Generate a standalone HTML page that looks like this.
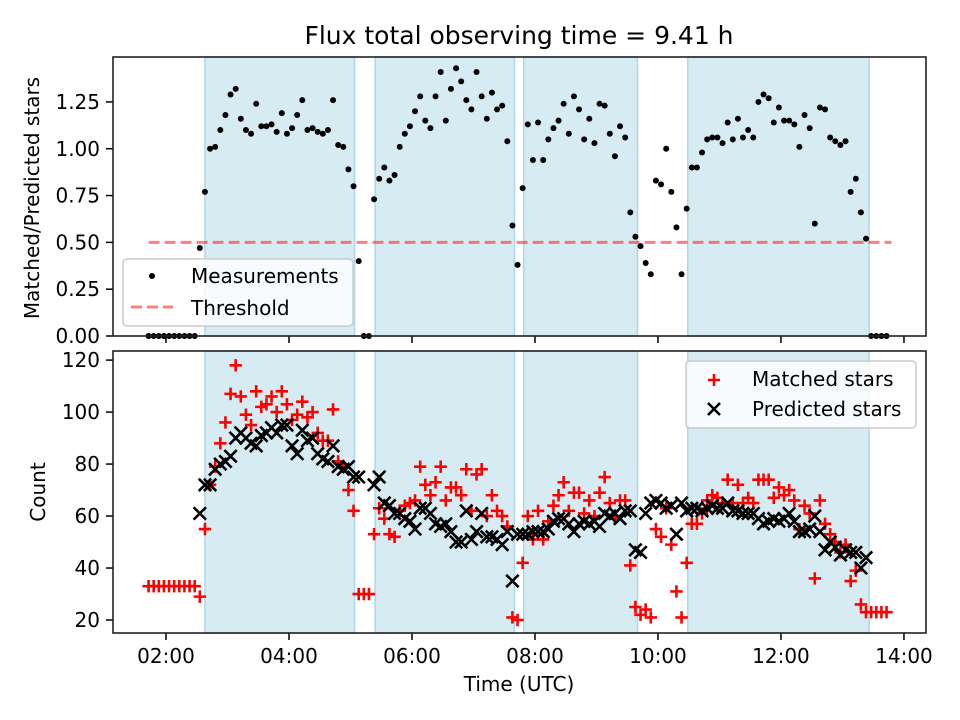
<!DOCTYPE html>
<html><head><meta charset="utf-8">
<style>
html,body{margin:0;padding:0;background:#fff;}
svg{display:block;font-family:"DejaVu Sans","Liberation Sans",sans-serif;}
</style></head>
<body>
<svg id="fig" width="960" height="720" viewBox="0 0 960 720" xmlns="http://www.w3.org/2000/svg">
<rect width="960" height="720" fill="#fff"/>
<text x="519" y="44" font-size="25" text-anchor="middle" fill="#000">Flux total observing time = 9.41 h</text>
<g id="topPanel"></g>
<g id="botPanel"></g>
<text transform="translate(39,198) rotate(-90)" font-size="20" text-anchor="middle" fill="#000">Matched/Predicted stars</text>
<text transform="translate(45,492) rotate(-90)" font-size="20" text-anchor="middle" fill="#000">Count</text>
<text x="519" y="691" font-size="20" text-anchor="middle" fill="#000">Time (UTC)</text>
</svg>
<script>
const times=[103,108,113,118,123,128,133,138,143,148,153,158,163,168,173,178,183,188,193,198,203,208,213,218,223,228,233,238,243,248,253,258,263,268,273,278,283,288,293,298,303,308,313,318,323,328,333,338,343,348,353,358,363,368,373,378,383,388,393,398,403,408,413,418,423,428,433,438,443,448,453,458,463,468,473,478,483,488,493,498,503,508,513,518,523,528,533,538,543,548,553,558,563,568,573,578,583,588,593,598,603,608,613,618,623,628,633,638,643,648,653,658,663,668,673,678,683,688,693,698,703,708,713,718,723,728,733,738,743,748,753,758,763,768,773,778,783,788,793,798,803,808,813,818,823];
const ratio=[0,0,0,0,0,0,0,0,0,0,
.47,.77,1.00,1.01,1.10,1.18,1.29,1.32,1.16,1.10,1.08,1.24,1.12,1.12,1.13,1.09,1.19,1.08,1.11,1.18,1.26,1.10,1.11,1.09,1.08,1.10,1.26,1.02,1.01,.89,.80,.40,0,0,
.73,.84,.90,.83,.86,1.01,1.08,1.12,1.20,1.28,1.15,1.11,1.28,1.41,1.15,1.32,1.43,1.36,1.26,1.21,1.41,1.28,1.16,1.30,1.21,1.23,1.04,.59,.38,
.79,1.13,.94,1.14,.94,1.05,1.11,1.15,1.24,1.08,1.28,1.21,1.05,1.16,1.03,1.24,1.23,1.08,.96,1.12,1.06,.66,.53,.48,.39,.33,.83,.81,1.00,.77,.58,.33,.68,.90,.90,.98,1.05,1.06,1.06,1.03,1.14,1.05,1.16,1.06,1.10,1.06,1.25,1.29,1.27,1.14,1.22,1.15,1.15,1.13,1.01,1.18,1.11,.60,1.22,1.21,1.06,1.04,1.02,1.04,.77,.84,.66,.52,
0,0,0,0];
const predicted=[null,null,null,null,null,null,null,null,null,null,
61,72,72,78,80,81,83,90,92,90,88,87,91,92,94,92,95,95,87,84,93,89,90,84,82,81,87,79,78,79,75,75,null,null,
72,75,65,64,61,61,59,58,55,63,63,61,57,56,57,54,50,50,62,51,54,61,52,52,51,49,54,35,53,
53,53,54,54,54,55,58,59,59,57,54,57,58,57,58,56,61,60,61,59,62,62,47,46,61,65,66,65,63,64,53,65,62,63,63,62,63,64,63,63,65,62,62,61,61,61,59,57,58,59,58,59,61,58,54,54,55,60,54,47,50,48,45,47,46,46,40,44,
null,null,null,null];
const matched=[33,33,33,33,33,33,33,33,33,33,
29,55,72,79,88,96,107,118,106,99,95,108,102,103,106,100,108,103,97,99,104,98,100,92,89,89,101,81,79,70,62,30,30,30,
53,63,59,53,52,62,64,65,66,79,72,68,73,79,66,71,71,68,78,62,76,78,60,68,62,60,56,21,20,
42,60,51,62,51,58,64,68,73,62,69,69,61,66,60,69,75,65,59,66,66,41,25,22,24,21,55,52,63,49,31,21,42,57,57,61,66,68,67,65,74,65,72,65,67,65,74,74,74,67,71,68,70,66,55,64,61,36,66,57,53,50,46,49,35,39,26,23,
23,23,23,23];
const spanStarts=[158,324,469,629];
const spanEnds=[304,460,580,806];
const threshold=0.5;
const xTickMinutes=[120,240,360,480,600,720,840];
const xTickLabels=["02:00","04:00","06:00","08:00","10:00","12:00","14:00"];
const topTicks=[0,0.25,0.5,0.75,1.0,1.25];
const topTickLabels=["0.00","0.25","0.50","0.75","1.00","1.25"];
const botTicks=[20,40,60,80,100,120];
const botTickLabels=["20","40","60","80","100","120"];

const NS="http://www.w3.org/2000/svg";
const L=113,R=926,T1=57,B1=336,T2=351,B2=633;
const xMin=68.3,xMax=861.5;
function xS(m){return L+(m-xMin)/(xMax-xMin)*(R-L);}
function yTop(v){return B1-v/1.49*(B1-T1);}
function yBot(v){return B2-(v-15)/(123.5-15)*(B2-T2);}
function mk(tag,attrs,parent){const e=document.createElementNS(NS,tag);for(const k in attrs)e.setAttribute(k,attrs[k]);parent.appendChild(e);return e;}

function panel(g,T,B,yScale,ticks,labels,showX,prefix){
  for(let i=0;i<spanStarts.length;i++){
    const r=mk('rect',{x:xS(spanStarts[i]),y:T,width:xS(spanEnds[i])-xS(spanStarts[i]),height:B-T,fill:'#add8e6','fill-opacity':0.5,stroke:'#add8e6','stroke-width':1.5},g);
    
    
  }
  ticks.forEach((v,i)=>{
    const y=yScale(v);
    const t=mk('line',{x1:L-7,x2:L,y1:y,y2:y,stroke:'#000','stroke-width':1.5},g);
    
    
    const tx=mk('text',{x:L-13,y:y+7,'font-size':20,'text-anchor':'end',fill:'#000'},g);
    tx.textContent=labels[i];
    
    
  });
  xTickMinutes.forEach((m,i)=>{
    const x=xS(m);
    const t=mk('line',{x1:x,x2:x,y1:B,y2:B+7,stroke:'#000','stroke-width':1.5},g);
    
    
    if(showX){
      const tx=mk('text',{x:x,y:B+30,'font-size':20,'text-anchor':'middle',fill:'#000'},g);
      tx.textContent=xTickLabels[i];
      
      
    }
  });
}
const topG=document.getElementById('topPanel'), botG=document.getElementById('botPanel');
panel(topG,T1,B1,yTop,topTicks,topTickLabels,false,'top');
panel(botG,T2,B2,yBot,botTicks,botTickLabels,true,'bottom');

const th=mk('line',{x1:xS(times[0]),x2:xS(times[times.length-1])+5,y1:yTop(threshold),y2:yTop(threshold),stroke:'#ff0000','stroke-opacity':0.5,'stroke-width':3,'stroke-dasharray':'11,5'},topG);


times.forEach((m,i)=>{
  const c=mk('circle',{cx:xS(m),cy:yTop(ratio[i]),r:3,fill:'#000'},topG);
  
  
});
times.forEach((m,i)=>{
  if(matched[i]==null)return;
  const x=xS(m),y=yBot(matched[i]),s=6.2;
  const p=mk('path',{d:`M${x-s},${y}H${x+s}M${x},${y-s}V${y+s}`,stroke:'#ff0000','stroke-width':2.6,fill:'none'},botG);
  
  
});
times.forEach((m,i)=>{
  if(predicted[i]==null)return;
  const x=xS(m),y=yBot(predicted[i]),s=6.2;
  const p=mk('path',{d:`M${x-s},${y-s}L${x+s},${y+s}M${x-s},${y+s}L${x+s},${y-s}`,stroke:'#000','stroke-width':2.6,fill:'none'},botG);
  
  
});
[[T1,B1,topG,'top-frame'],[T2,B2,botG,'bottom-frame']].forEach(a=>{
  const f=mk('rect',{x:L,y:a[0],width:R-L,height:a[1]-a[0],fill:'none',stroke:'#222','stroke-width':1.6},a[2]);
  
  
});
function legend(g,x,y,w,h,name){
  const b=mk('rect',{x:x,y:y,width:w,height:h,rx:4,fill:'#fff','fill-opacity':0.8,stroke:'#cccccc','stroke-width':1.5},g);
  
  
}
legend(topG,123,259,230,67,'top-legend');
const ld=mk('circle',{cx:152,cy:276,r:3,fill:'#000'},topG);


const lt1=mk('text',{x:191,y:283,'font-size':20,fill:'#000'},topG);lt1.textContent='Measurements';


const ll=mk('line',{x1:131,x2:173,y1:307,y2:307,stroke:'#ff0000','stroke-opacity':0.5,'stroke-width':3,'stroke-dasharray':'11,5'},topG);


const lt2=mk('text',{x:191,y:315,'font-size':20,fill:'#000'},topG);lt2.textContent='Threshold';



legend(botG,686,361,230,67,'bottom-legend');
const lp=mk('path',{d:'M708,380H720M714,374V386',stroke:'#ff0000','stroke-width':2.6},botG);


const lt3=mk('text',{x:752,y:386,'font-size':20,fill:'#000'},botG);lt3.textContent='Matched stars';


const lx=mk('path',{d:'M708,403L720,415M708,415L720,403',stroke:'#000','stroke-width':2.6},botG);


const lt4=mk('text',{x:752,y:416,'font-size':20,fill:'#000'},botG);lt4.textContent='Predicted stars';


</script>
</body></html>
